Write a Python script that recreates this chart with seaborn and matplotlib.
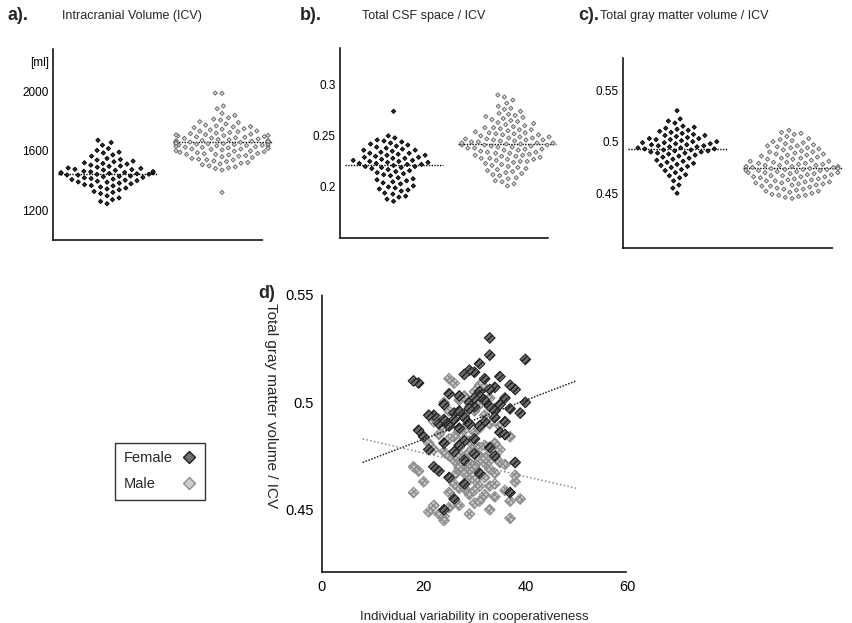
import numpy as np
import pandas as pd
import matplotlib
matplotlib.use("Agg")
import matplotlib.pyplot as plt
from matplotlib.lines import Line2D
from matplotlib.path import Path
import seaborn as sns

# ---- data ----
icv_female = [1452, 1388, 1510, 1436, 1297, 1475, 1563, 1421, 1349, 1602,
              1468, 1395, 1244, 1530, 1447, 1372, 1489, 1655, 1413, 1326,
              1458, 1541, 1402, 1283, 1497, 1430, 1364, 1585, 1441, 1519,
              1378, 1462, 1615, 1406, 1337, 1484, 1452, 1259, 1548, 1425,
              1390, 1503, 1470, 1356, 1637, 1418, 1445, 1312, 1526, 1481,
              1399, 1572, 1437, 1460, 1343, 1495, 1670, 1409, 1382, 1514,
              1449, 1271, 1590, 1428, 1473, 1366, 1537, 1455, 1320, 1442]
icv_male = [1652, 1718, 1589, 1695, 1543, 1667, 1780, 1624, 1506, 1701,
            1638, 1812, 1575, 1659, 1470, 1733, 1612, 1685, 1548, 1760,
            1643, 1597, 1882, 1669, 1521, 1708, 1630, 1755, 1582, 1676,
            1987, 1615, 1492, 1690, 1648, 1837, 1563, 1722, 1605, 1661,
            1538, 1744, 1673, 1512, 1629, 1795, 1656, 1580, 1711, 1645,
            1320, 1683, 1600, 1767, 1554, 1637, 1728, 1498, 1664, 1619,
            1806, 1572, 1699, 1641, 1527, 1748, 1687, 1593, 1654, 1851,
            1608, 1480, 1715, 1633, 1567, 1772, 1650, 1539, 1693, 1622,
            1985, 1586, 1740, 1658, 1516, 1706, 1627, 1789, 1560, 1679,
            1644, 1901, 1598, 1731, 1531, 1668, 1611, 1762, 1575, 1647,
            1702, 1485, 1635, 1821, 1662]

csf_female = [0.222, 0.238, 0.205, 0.229, 0.193, 0.215, 0.246, 0.226, 0.198, 0.233,
              0.219, 0.241, 0.188, 0.224, 0.211, 0.236, 0.203, 0.228, 0.274, 0.217,
              0.231, 0.196, 0.244, 0.221, 0.208, 0.235, 0.225, 0.190, 0.240, 0.214,
              0.227, 0.200, 0.232, 0.218, 0.248, 0.223, 0.206, 0.237, 0.220, 0.194,
              0.230, 0.212, 0.243, 0.224, 0.201, 0.226, 0.234, 0.186, 0.219, 0.239,
              0.209, 0.228, 0.245, 0.216, 0.197, 0.233, 0.222, 0.204, 0.236, 0.225,
              0.213, 0.242, 0.191, 0.229, 0.220, 0.250, 0.207, 0.231, 0.223, 0.199]
csf_male = [0.243, 0.258, 0.228, 0.249, 0.215, 0.237, 0.267, 0.245, 0.221, 0.253,
            0.239, 0.276, 0.225, 0.247, 0.205, 0.262, 0.233, 0.251, 0.218, 0.270,
            0.241, 0.230, 0.285, 0.246, 0.212, 0.256, 0.236, 0.264, 0.227, 0.248,
            0.290, 0.234, 0.209, 0.252, 0.242, 0.279, 0.223, 0.259, 0.231, 0.244,
            0.217, 0.261, 0.240, 0.203, 0.235, 0.272, 0.246, 0.226, 0.255, 0.238,
            0.201, 0.250, 0.232, 0.266, 0.220, 0.241, 0.257, 0.213, 0.248, 0.229,
            0.274, 0.224, 0.254, 0.243, 0.216, 0.263, 0.245, 0.230, 0.239, 0.282,
            0.236, 0.208, 0.258, 0.240, 0.222, 0.269, 0.244, 0.219, 0.251, 0.233,
            0.288, 0.227, 0.260, 0.242, 0.211, 0.253, 0.237, 0.268, 0.225, 0.249,
            0.241, 0.277, 0.231, 0.256, 0.214, 0.246, 0.234, 0.265, 0.228, 0.243,
            0.252, 0.206, 0.238, 0.271, 0.247]

gm_female = [0.493, 0.505, 0.481, 0.498, 0.470, 0.488, 0.512, 0.495, 0.476, 0.502,
             0.490, 0.518, 0.465, 0.496, 0.484, 0.509, 0.479, 0.499, 0.455, 0.491,
             0.506, 0.473, 0.514, 0.494, 0.486, 0.503, 0.497, 0.468, 0.510, 0.489,
             0.500, 0.478, 0.507, 0.492, 0.522, 0.495, 0.483, 0.504, 0.491, 0.462,
             0.501, 0.487, 0.515, 0.496, 0.475, 0.498, 0.508, 0.450, 0.490, 0.511,
             0.482, 0.499, 0.530, 0.489, 0.472, 0.503, 0.494, 0.480, 0.506, 0.497,
             0.485, 0.513, 0.467, 0.500, 0.492, 0.520, 0.477, 0.502, 0.493, 0.458]
gm_male = [0.474, 0.488, 0.461, 0.479, 0.452, 0.470, 0.496, 0.476, 0.457, 0.484,
           0.472, 0.501, 0.459, 0.477, 0.447, 0.492, 0.466, 0.481, 0.454, 0.498,
           0.473, 0.463, 0.508, 0.478, 0.450, 0.487, 0.468, 0.494, 0.460, 0.480,
           0.511, 0.467, 0.449, 0.483, 0.475, 0.503, 0.458, 0.489, 0.464, 0.476,
           0.453, 0.491, 0.471, 0.446, 0.469, 0.499, 0.477, 0.462, 0.486, 0.472,
           0.448, 0.482, 0.465, 0.495, 0.455, 0.474, 0.490, 0.451, 0.479, 0.463,
           0.505, 0.460, 0.485, 0.473, 0.456, 0.493, 0.476, 0.466, 0.470, 0.507,
           0.468, 0.445, 0.488, 0.471, 0.459, 0.497, 0.475, 0.457, 0.481, 0.467,
           0.509, 0.461, 0.490, 0.473, 0.452, 0.484, 0.469, 0.496, 0.458, 0.480,
           0.472, 0.502, 0.464, 0.487, 0.454, 0.478, 0.466, 0.494, 0.462, 0.474,
           0.483, 0.448, 0.470, 0.500, 0.477]

coop_female = [28, 31, 24, 33, 22, 27, 35, 26, 30, 36,
               29, 31, 25, 34, 20, 19, 33, 24, 26, 32,
               38, 28, 30, 22, 35, 27, 37, 23, 18, 31,
               29, 21, 34, 26, 33, 39, 30, 25, 36, 28,
               32, 19, 29, 27, 34, 30, 37, 24, 23, 32,
               28, 35, 33, 25, 38, 31, 21, 27, 33, 29,
               36, 28, 31, 40, 24, 40, 26, 30, 34, 37]
coop_male = [28, 24, 31, 27, 22, 30, 25, 33, 29, 26,
             32, 27, 36, 29, 24, 23, 31, 34, 37, 29,
             26, 38, 31, 22, 33, 28, 19, 32, 27, 30,
             25, 34, 21, 25, 31, 28, 18, 35, 29, 27,
             30, 22, 28, 37, 33, 31, 24, 26, 30, 35,
             23, 29, 32, 26, 39, 27, 33, 25, 31, 20,
             30, 28, 23, 33, 34, 28, 30, 26, 18, 32,
             29, 24, 31, 36, 30, 34, 25, 32, 21, 28,
             26, 33, 29, 31, 27, 37, 27, 30, 25, 32,
             29, 33, 30, 27, 31, 35, 38, 28, 34, 32,
             28, 29, 27, 24, 30]

# regression lines in panel d (end points)
fit_x = [8, 50]
fit_female = [0.472, 0.510]
fit_male = [0.483, 0.460]

sexes = ["Female", "Male"]

# ---- style ----
sns.set_theme(style="white")
plt.rcParams["font.family"] = ["Liberation Sans", "DejaVu Sans"]
plt.rcParams["font.size"] = 8

face = {"Female": "#333333", "Male": "#e2e2e2"}
edge = {"Female": "#000000", "Male": "#6a6a6a"}

# diamond drawn smaller than its swarm footprint (far moveto sets the scale)
small_diamond = Path([(1, 0), (0, 0.75), (0.75, 0), (0, -0.75), (-0.75, 0), (0, 0.75)],
                     [Path.MOVETO, Path.MOVETO, Path.LINETO, Path.LINETO,
                      Path.LINETO, Path.CLOSEPOLY])

fig = plt.figure(figsize=(8.53, 6.23), dpi=100)
W, H = 853.0, 623.0


def axes_px(l, t, r, b):
    return fig.add_axes([l / W, 1 - b / H, (r - l) / W, (b - t) / H])


def style_axes(ax):
    sns.despine(ax=ax)
    for s in ["left", "bottom"]:
        ax.spines[s].set_linestyle((0, (1, 1)))
        ax.spines[s].set_linewidth(1.1)
        ax.spines[s].set_color("black")
    ax.tick_params(direction="in", length=2, width=0.8, colors="black",
                   labelsize=8.5, pad=3)


def group_panel(ax, fem, mal, ylim, yticks, ylabels, letter, title, tx, ttx):
    df = pd.DataFrame({"val": fem + mal,
                       "sex": ["Female"] * len(fem) + ["Male"] * len(mal)})
    sns.swarmplot(data=df, x="sex", y="val", hue="sex", order=sexes,
                  hue_order=sexes, palette=face, marker=small_diamond, size=4.0,
                  linewidth=0.7, legend=False, ax=ax, warn_thresh=1.0)
    for coll, s in zip(ax.collections, sexes):
        coll.set_edgecolor(edge[s])
        coll.set_clip_on(False)
    means = [np.mean(fem), np.mean(mal)]
    ax.hlines(means, [-0.43, 0.57], [0.43, 1.43], colors="black",
              linestyles=(0, (1, 1)), linewidth=1.0, clip_on=False)
    ax.set_xlim(-0.47, 1.356)
    ax.set_ylim(*ylim)
    ax.set_xticks([])
    ax.set_xlabel("")
    ax.set_ylabel("")
    ax.set_yticks(yticks)
    ax.set_yticklabels(ylabels)
    style_axes(ax)
    fig.text(tx, 1 - 16 / H, letter, fontsize=13, fontweight="bold",
             va="center", ha="left")
    fig.text(ttx, 1 - 16 / H, title, fontsize=9, va="center", ha="left")


ax_a = axes_px(53, 48, 263, 240)
group_panel(ax_a, icv_female, icv_male, (1000, 2290),
            [1200, 1600, 2000, 2200], ["1200", "1600", "2000", "[ml]"],
            "a).", "Intracranial Volume (ICV)", 8 / W, 62 / W)

ax_b = axes_px(340, 48, 548, 238)
group_panel(ax_b, csf_female, csf_male, (0.15, 0.336),
            [0.2, 0.25, 0.3], ["0.2", "0.25", "0.3"],
            "b).", "Total CSF space / ICV", 300 / W, 362 / W)

ax_c = axes_px(623, 58, 833, 248)
group_panel(ax_c, gm_female, gm_male, (0.397, 0.581),
            [0.45, 0.5, 0.55], ["0.45", "0.5", "0.55"],
            "c).", "Total gray matter volume / ICV", 578 / W, 600 / W)

# ---- panel d ----
ax_d = axes_px(322, 295, 627, 572)
hatch = {"Female": "//////", "Male": "xxxxxx"}
d_face = {"Female": "#6e6e6e", "Male": "#cccccc"}
d_edge = {"Female": "#1e1e1e", "Male": "#8c8c8c"}
for s, xs, ys in [("Male", coop_male, gm_male), ("Female", coop_female, gm_female)]:
    sns.scatterplot(x=xs, y=ys, marker="D", s=30, facecolor=d_face[s],
                    edgecolor=d_edge[s], linewidth=0.7, hatch=hatch[s],
                    ax=ax_d)
sns.lineplot(x=fit_x, y=fit_female, color="#222222", linewidth=1.1,
             linestyle=(0, (1, 1)), ax=ax_d)
sns.lineplot(x=fit_x, y=fit_male, color="#888888", linewidth=1.1,
             linestyle=(0, (1, 1.5)), ax=ax_d)
ax_d.set_xlim(0, 60)
ax_d.set_ylim(0.421, 0.55)
ax_d.set_xticks([0, 20, 40, 60])
ax_d.set_yticks([0.45, 0.5, 0.55])
ax_d.set_yticklabels(["0.45", "0.5", "0.55"])
ax_d.set_xticklabels(["0", "20", "40", "60"])
style_axes(ax_d)
ax_d.tick_params(labelsize=10.5, pad=6)
ax_d.set_xlabel("Individual variability in cooperativeness", fontsize=9.5,
                labelpad=12)
ax_d.set_ylabel("Total gray matter volume / ICV", fontsize=11,
                rotation=-90)
ax_d.yaxis.set_label_coords(-0.19, 0.6)
fig.text(258 / W, 1 - 294 / H, "d)", fontsize=13, fontweight="bold",
         va="center", ha="left")

handles = [Line2D([], [], marker="D", linestyle="none", markersize=6,
                  markerfacecolor=d_face[s], markeredgecolor=d_edge[s],
                  markeredgewidth=1.0) for s in sexes]
leg = fig.legend(handles, sexes, loc="lower left",
                 bbox_to_anchor=(108 / W, 1 - 507 / H), markerfirst=False,
                 frameon=True, fancybox=False, fontsize=10.5,
                 handletextpad=0.6, borderpad=0.6, labelspacing=0.8,
                 handlelength=1.0)
leg.get_frame().set_edgecolor("black")
leg.get_frame().set_linewidth(1.0)

# left-align the legend labels while keeping the markers in one column
fig.canvas.draw()
texts = leg.get_texts()
widths = [t.get_window_extent().width for t in texts]
col = leg._legend_handle_box.get_children()[0]
col.align = "left"
for row, w in zip(col.get_children(), widths):
    row.sep += (max(widths) - w) * 72.0 / fig.dpi

fig.savefig("out.png", dpi=100)
